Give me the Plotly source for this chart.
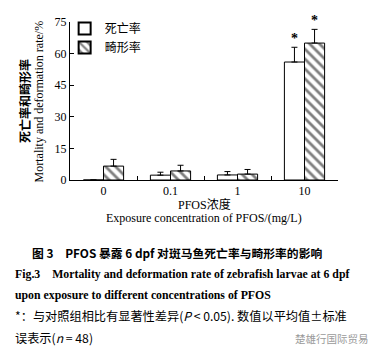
import plotly.graph_objects as go

categories = ["0", "0.1", "1", "10"]
mortality = [0, 2.3, 2.4, 56]
mortality_err = [0, 1.4, 1.6, 7]
deformation = [6.6, 4.3, 2.8, 65]
deformation_err = [3.2, 2.7, 2.2, 6.5]
sig_mort = ["", "", "", "*"]
sig_def = ["", "", "", "*"]
y_ticks = [0, 15, 30, 45, 60, 75]

SERIF = "Liberation Serif, Times New Roman, serif"
CJK = "Noto Sans CJK SC"

fig = go.Figure()
fig.add_trace(go.Bar(
    x=categories, y=mortality, name="死亡率",
    marker=dict(color="white", line=dict(color="black", width=1)),
    error_y=dict(type="data", array=mortality_err, arrayminus=[0]*4, symmetric=False,
                 color="black", thickness=1, width=3),
))
fig.add_trace(go.Bar(
    x=categories, y=deformation, name="畸形率",
    marker=dict(color="white", line=dict(color="black", width=1),
                pattern=dict(shape="\\", fgcolor="black", bgcolor="white", size=7, solidity=0.4)),
    error_y=dict(type="data", array=deformation_err, arrayminus=[0]*4, symmetric=False,
                 color="black", thickness=1, width=3),
))

for i, c in enumerate(categories):
    if sig_mort[i]:
        fig.add_annotation(x=i, y=mortality[i] + mortality_err[i], text="<b>" + sig_mort[i] + "</b>",
                           showarrow=False, xshift=-10, yshift=9,
                           font=dict(family=SERIF, size=14, color="#000000"))
    if sig_def[i]:
        fig.add_annotation(x=i, y=deformation[i] + deformation_err[i], text="<b>" + sig_def[i] + "</b>",
                           showarrow=False, xshift=10, yshift=9,
                           font=dict(family=SERIF, size=14, color="#000000"))

fig.update_layout(
    width=377, height=355,
    margin=dict(l=70, r=39, t=22, b=175),
    plot_bgcolor="white", paper_bgcolor="white",
    barmode="group", bargap=0.4, bargroupgap=0,
    showlegend=True,
    legend=dict(x=-0.02, y=1.05, xanchor="left", yanchor="top", bgcolor="rgba(0,0,0,0)",
                font=dict(family=CJK, size=12, color="black"), itemwidth=30, tracegroupgap=0,
                itemsizing="constant"),
    font=dict(family=SERIF, color="black"),
)
fig.update_xaxes(
    type="category", range=[-0.5, len(categories) - 0.5], showline=True, linecolor="black", linewidth=1,
    ticks="inside", ticklen=4, tickson="boundaries", tickcolor="black",
    tickfont=dict(family=SERIF, size=12, color="black"), showgrid=False, zeroline=False,
)
fig.update_yaxes(
    range=[0, 75], tickvals=y_ticks, showline=True, linecolor="black", linewidth=1,
    ticks="inside", ticklen=4, tickcolor="black",
    tickfont=dict(family=SERIF, size=12, color="black"), showgrid=False, zeroline=False,
)

# axis titles
fig.add_annotation(xref="paper", yref="paper", x=-0.172, y=0.5, xanchor="center", yanchor="middle",
                   text="<b>死亡率和畸形率</b>", textangle=-90, showarrow=False,
                   font=dict(family=CJK, size=12, color="black"))
fig.add_annotation(xref="paper", yref="paper", x=-0.114, y=0.5, xanchor="center", yanchor="middle",
                   text="Mortality and deformation rate/%", textangle=-90, showarrow=False,
                   font=dict(family=SERIF, size=12, color="black"))
fig.add_annotation(xref="paper", yref="paper", x=0.5, y=-0.155, xanchor="center", yanchor="middle",
                   text="PFOS浓度", showarrow=False, font=dict(family=SERIF + ", " + CJK, size=12, color="black"))
fig.add_annotation(xref="paper", yref="paper", x=0.5, y=-0.24, xanchor="center", yanchor="middle",
                   text="Exposure concentration of PFOS/(mg/L)", showarrow=False,
                   font=dict(family=SERIF, size=12, color="black"))

# captions (pixel positions converted to paper coords)
PT, PB = 22, 355 - 175
def py(ypix):
    return (PB - ypix) / (PB - PT)
def px(xpix):
    return (xpix - 70) / (338 - 70)

captions = [
    (30, 252, "<b>图 3　PFOS 暴露 6 dpf 对斑马鱼死亡率与畸形率的影响</b>", CJK, 11.8),
    (13, 274, "<b>Fig.3　Mortality and deformation rate of zebrafish larvae at 6 dpf</b>", SERIF, 11.8),
    (13, 295, "<b>upon exposure to different concentrations of PFOS</b>", SERIF, 11.8),
    (13, 316, "*：与对照组相比有显著性差异(<i>P</i> < 0.05). 数值以平均值±标准", CJK, 12.2),
    (13, 338, "误表示(<i>n</i> = 48)", CJK, 12.2),
]
for xp, ypx, txt, fam, sz in captions:
    fig.add_annotation(xref="paper", yref="paper", x=px(xp), y=py(ypx), xanchor="left", yanchor="middle",
                       text=txt, showarrow=False, font=dict(family=fam, size=sz, color="black"))
fig.add_annotation(xref="paper", yref="paper", x=px(293), y=py(338), xanchor="left", yanchor="middle",
                   text="楚雄行国际贸易", showarrow=False, font=dict(family=CJK, size=10.5, color="#9a9a9a"))

fig.write_html("out.html", config={"displayModeBar": False},
               post_script="document.body.style.margin='0';document.body.style.overflow='hidden';")
